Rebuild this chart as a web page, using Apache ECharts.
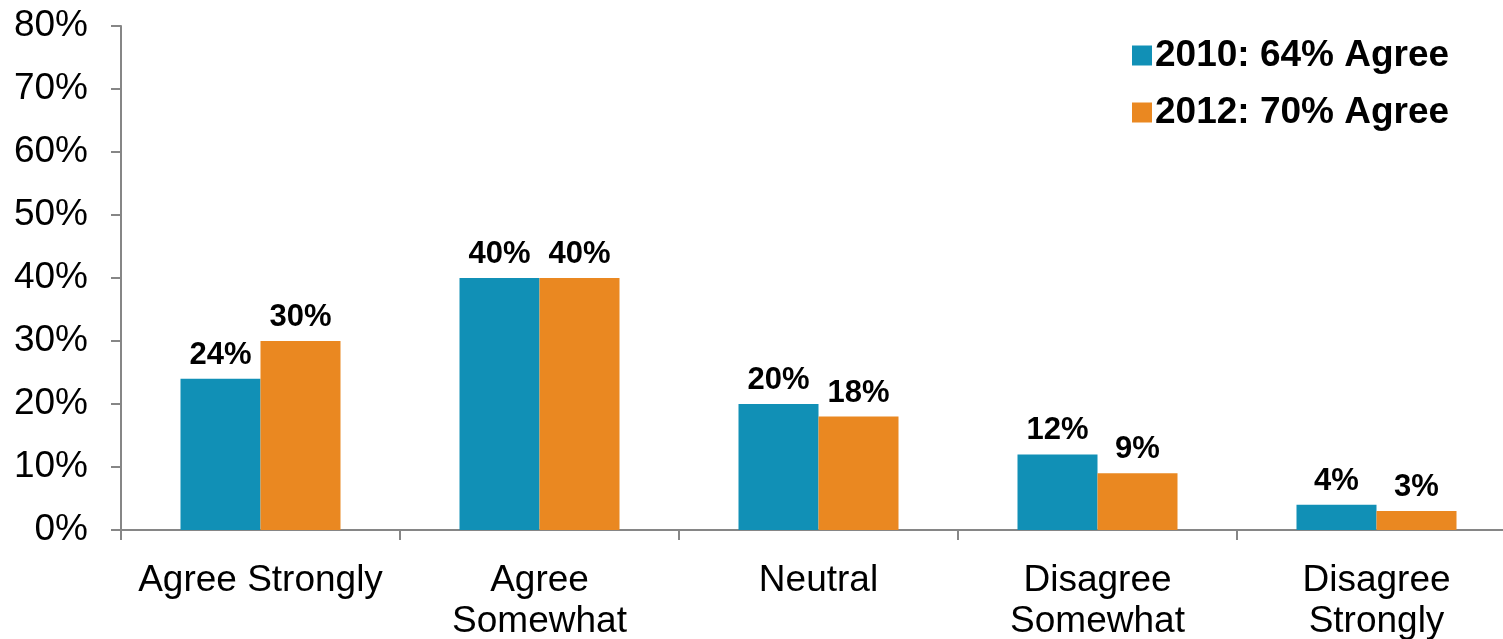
<!DOCTYPE html>
<html>
<head>
<meta charset="utf-8">
<script src="https://cdn.jsdelivr.net/npm/echarts@6/dist/echarts.min.js"></script>
<style>
  html, body { margin: 0; padding: 0; background: #fff; overflow: hidden; }
  /* canvas is a little wider than the window so the last category band runs off the right edge */
  #chart { width: 1516px; height: 639px; }
</style>
</head>
<body>
<div id="chart"></div>
<script>
// Survey responses by category, percentage of respondents
const categories = ['Agree Strongly', 'Agree\nSomewhat', 'Neutral', 'Disagree\nSomewhat', 'Disagree\nStrongly'];
const series2010 = [24, 40, 20, 12, 4];
const series2012 = [30, 40, 18, 9, 3];
const seriesNames = ['2010: 64% Agree', '2012: 70% Agree'];
const yTicks = [0, 10, 20, 30, 40, 50, 60, 70, 80];

const FONT = '"Liberation Sans", Arial, sans-serif';
const AXIS_COLOR = '#868686';
const BLUE = '#1190b6';
const ORANGE = '#ea8821';

const chart = echarts.init(document.getElementById('chart'), null, { renderer: 'canvas' });

const labelStyle = {
  show: true,
  position: 'top',
  distance: 8,
  formatter: p => p.value + '%',
  fontFamily: FONT,
  fontWeight: 'bold',
  fontSize: 31,
  color: '#000'
};

chart.setOption({
  animation: false,
  backgroundColor: '#fff',
  grid: { left: 121, top: 26, right: 0, bottom: 109, containLabel: false, outerBoundsMode: 'none' },
  legend: {
    orient: 'vertical',
    left: 1127,
    top: 32,
    itemWidth: 20,
    itemHeight: 20,
    itemGap: 20,
    icon: 'rect',
    textStyle: { fontFamily: FONT, fontWeight: 'bold', fontSize: 37, lineHeight: 36, color: '#000', padding: [0, 0, 0, -2] },
    data: seriesNames
  },
  xAxis: {
    type: 'category',
    data: categories,
    axisLine: { lineStyle: { color: AXIS_COLOR, width: 2 } },
    axisTick: { show: true, length: 10, lineStyle: { color: AXIS_COLOR, width: 2 } },
    axisLabel: { fontFamily: FONT, fontSize: 37, color: '#000', margin: 30, lineHeight: 41, interval: 0 }
  },
  yAxis: {
    type: 'value',
    min: yTicks[0],
    max: yTicks[yTicks.length - 1],
    interval: 10,
    splitLine: { show: false },
    axisLine: { show: true, lineStyle: { color: AXIS_COLOR, width: 2 } },
    axisTick: { show: true, length: 10, lineStyle: { color: AXIS_COLOR, width: 2 } },
    axisLabel: { fontFamily: FONT, fontSize: 37, color: '#000', margin: 33, formatter: v => v + '%' }
  },
  series: [
    {
      name: seriesNames[0],
      type: 'bar',
      data: series2010,
      barWidth: 80,
      barGap: '0%',
      itemStyle: { color: BLUE },
      label: labelStyle
    },
    {
      name: seriesNames[1],
      type: 'bar',
      data: series2012,
      barWidth: 80,
      itemStyle: { color: ORANGE },
      label: labelStyle
    }
  ]
});
</script>
</body>
</html>
